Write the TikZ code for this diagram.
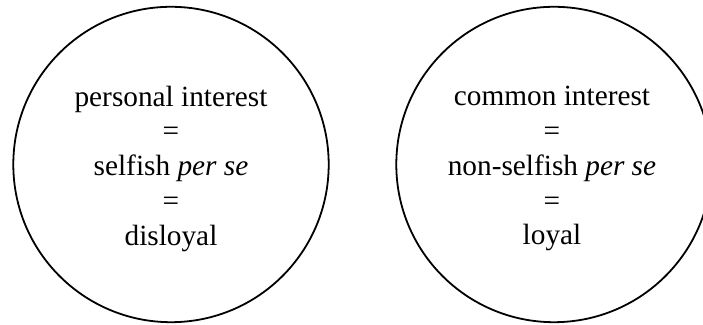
\documentclass[tikz,border=0pt]{standalone}
\usepackage{fontspec}
\setmainfont{Liberation Serif}
\usepackage{tikz}
\usetikzlibrary{positioning}

\tikzset{
  bigcircle/.style={draw, circle, line width=0.9pt, minimum size=157.7pt, inner sep=0pt},
  circtext/.style={align=center, inner sep=0pt, font=\fontsize{14.65}{17.4}\selectfont}
}

\begin{document}
\begin{tikzpicture}[x=0.5pt,y=-0.5pt]
        \useasboundingbox (0,0) rectangle (703,325);
        % the two circles
        \node[bigcircle] (personal) at (171,164.5) {};
        \node[bigcircle] (common) at (554,164.5) {};
        % their texts
        \node[circtext] (personaltext) at (171,168.7)
          {personal interest\\=\\selfish \textit{per se}\\=\\disloyal};
        \node[circtext] (commontext) at (552,168.7)
          {common interest\\=\\non-selfish \textit{per se}\\=\\loyal};
      \end{tikzpicture}
\end{document}
